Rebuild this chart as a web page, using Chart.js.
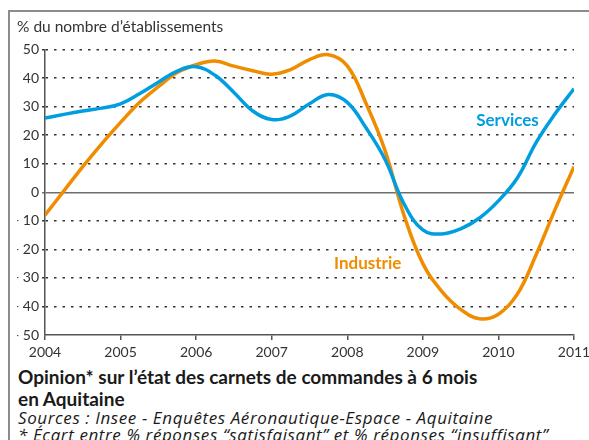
<!DOCTYPE html>
<html>
<head>
<meta charset="utf-8">
<script src="https://cdn.jsdelivr.net/npm/chart.js@4/dist/chart.umd.min.js"></script>
<style>
  body { margin: 0; background: #fff; width: 589px; height: 440px; overflow: hidden; position: relative; }
  #frame { position: absolute; left: 8px; top: 10px; width: 700px; height: 500px;
           border-top: 2px solid #8c8c8c; border-left: 2px solid #8c8c8c; }
  #wrap { position: absolute; left: 0; top: 0; width: 600px; height: 362px; }
  #titre { position: absolute; left: 18px; top: 366px; font-family: Lato, sans-serif; font-weight: bold;
           font-size: 19px; line-height: 22px; color: #1a1a1a; }
  #sources { position: absolute; left: 18px; top: 409px; font-family: "Open Sans", sans-serif; font-style: italic;
             font-size: 17px; line-height: 17px; letter-spacing: 0.6px; color: #1a1a1a; white-space: nowrap; }
</style>
</head>
<body>
<div id="frame"></div>
<div id="wrap"><canvas id="myChart" width="600" height="362"></canvas></div>
<div id="titre">Opinion* sur l’état des carnets de commandes à 6 mois<br>en Aquitaine</div>
<div id="sources">Sources : Insee - Enquêtes Aéronautique-Espace - Aquitaine<br>* Écart entre % réponses “satisfaisant” et % réponses “insuffisant”</div>
<script>
var quarters = [2004, 2004.25, 2004.5, 2004.75, 2005, 2005.25, 2005.5, 2005.75,
    2006, 2006.25, 2006.5, 2006.75, 2007, 2007.25, 2007.5, 2007.75,
    2008, 2008.25, 2008.5, 2008.75, 2009, 2009.25, 2009.5, 2009.75,
    2010, 2010.25, 2010.5, 2010.75, 2011];
var services = [26, 27.3, 28.5, 29.5, 31, 34.5, 38.6, 42.5,
    44, 41, 35, 28.5, 25.5, 26.8, 31, 34.3,
    31.5, 22.5, 11.5, -4, -13.2, -14.6, -12.8, -9,
    -3, 5, 17.5, 27.5, 36.3];
var industrie = [-8, 0.5, 9, 17, 24.5, 31.5, 37, 42,
    44.7, 46, 44.2, 42.6, 41.4, 43, 46.5, 48.2,
    44.3, 31, 14.6, -8, -25, -34.7, -41, -44.3,
    -42.7, -35.7, -21.8, -6, 9];
var yearTicks = [2004, 2005, 2006, 2007, 2008, 2009, 2010, 2011];

var blue = '#009ee0';
var orange = '#f08c00';

function toPoints(vals) {
    return quarters.map(function (q, i) { return { x: q, y: vals[i] }; });
}

// libellés des séries posés dans le graphique
var serieLabels = {
    id: 'serieLabels',
    afterDatasetsDraw: function (chart) {
        var ctx = chart.ctx, xs = chart.scales.x, ys = chart.scales.y;
        ctx.save();
        ctx.font = 'bold 17px Lato, sans-serif';
        ctx.textAlign = 'center';
        ctx.textBaseline = 'middle';
        ctx.fillStyle = blue;
        ctx.fillText('Services', xs.getPixelForValue(2010.12), ys.getPixelForValue(25));
        ctx.fillStyle = orange;
        ctx.fillText('Industrie', xs.getPixelForValue(2008.27), ys.getPixelForValue(-25));
        ctx.restore();
    }
};

var chartArea = document.getElementById('myChart').getContext('2d');

var myChart = new Chart(chartArea, {
    type: 'line',
    data: {
        datasets: [{
            label: 'Services',
            data: toPoints(services),
            borderColor: blue,
            borderWidth: 3.5,
            pointRadius: 0,
            tension: 0.4
        }, {
            label: 'Industrie',
            data: toPoints(industrie),
            borderColor: orange,
            borderWidth: 3.5,
            pointRadius: 0,
            tension: 0.4
        }]
    },
    options: {
        responsive: false,
        animation: false,
        layout: { padding: { left: 17, right: 26, top: 0, bottom: 0 } },
        plugins: {
            legend: { display: false },
            tooltip: { enabled: false },
            title: {
                display: true,
                text: '% du nombre d’établissements',
                align: 'start',
                color: '#333',
                font: { family: 'Lato, sans-serif', size: 15.5, weight: 'normal' },
                padding: { top: 18, bottom: 13 }
            }
        },
        scales: {
            x: {
                type: 'linear',
                min: 2004,
                max: 2011,
                afterBuildTicks: function (scale) {
                    scale.ticks = yearTicks.map(function (v) { return { value: v }; });
                },
                afterFit: function (scale) { scale.height = 27; },
                ticks: {
                    color: '#333',
                    font: { family: 'Lato, sans-serif', size: 14 },
                    padding: 4,
                    maxRotation: 0,
                    callback: function (v) { return String(v); }
                },
                grid: { drawOnChartArea: false, drawTicks: true, tickLength: 5, color: '#555', lineWidth: 1.5 },
                border: { color: '#555', width: 1.5 }
            },
            y: {
                min: -50,
                max: 50,
                afterFit: function (scale) { scale.width = 28; },
                ticks: {
                    stepSize: 10,
                    color: '#333',
                    font: { family: 'Lato, sans-serif', size: 14 },
                    padding: 3,
                    callback: function (v) { return v < 0 ? '- ' + Math.abs(v) : String(v); }
                },
                grid: {
                    tickLength: 3,
                    color: function (c) {
                        if (c.tick && c.tick.value === -50) return 'rgba(0,0,0,0)';
                        return c.tick && c.tick.value === 0 ? '#6e6e6e' : '#333';
                    },
                    lineWidth: 1.5
                },
                border: {
                    color: '#555',
                    width: 1.5,
                    dash: function (c) { return c.tick && c.tick.value !== 0 ? [2.5, 6] : []; }
                }
            }
        }
    },
    plugins: [serieLabels]
});
</script>
</body>
</html>
